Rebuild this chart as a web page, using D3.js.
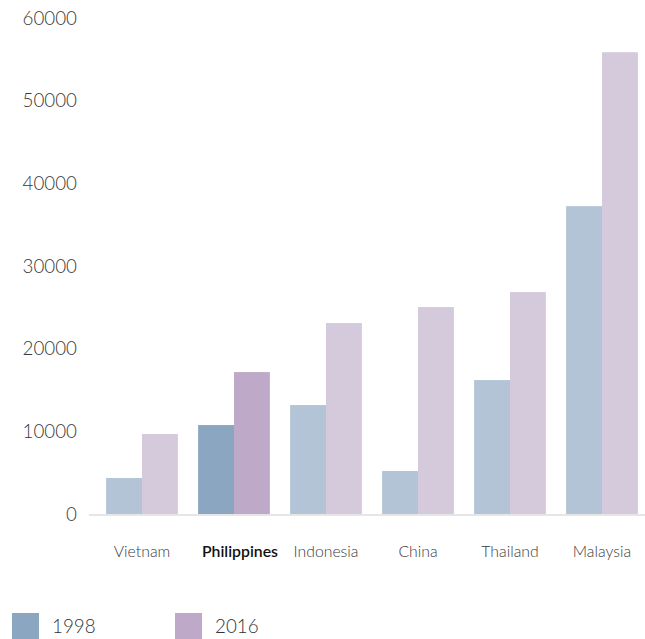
<!DOCTYPE html>
<html><head><meta charset="utf-8">
<script src="https://cdn.jsdelivr.net/npm/d3@7"></script>
<style>
body{margin:0;background:#fff;}
svg{display:block;font-family:Lato, "Open Sans", sans-serif;}
</style></head>
<body><svg id="c" width="645" height="639"></svg>
<script>
const categories = ["Vietnam","Philippines","Indonesia","China","Thailand","Malaysia"];
const series = ["1998","2016"];
const values1998 = [4350, 10760, 13180, 5200, 16200, 37240];
const values2016 = [9670, 17170, 23100, 25030, 26840, 55860];
const yTicks = [0,10000,20000,30000,40000,50000,60000];
const highlight = "Philippines";

const colors = {"1998":{base:"#b3c4d6",hi:"#8aa6c1"},"2016":{base:"#d5c9dc",hi:"#bfa9c8"}};

const svg = d3.select("#c");
const x = d3.scaleBand().domain(categories).range([96,648]).paddingInner(0.22).paddingOuter(0.11);
const x1 = d3.scaleBand().domain(series).range([0, x.bandwidth()]);
const y = d3.scaleLinear().domain([0,60000]).range([514,18]);

// y tick labels
svg.append("g").selectAll("text").data(yTicks).join("text")
  .attr("x",77).attr("y",d=>y(d)).attr("dy","0.35em")
  .attr("text-anchor","end").attr("font-size",18.8).attr("font-weight",300)
  .attr("fill","#3a3a3a").text(d=>d);

// baseline
svg.append("line").attr("x1",89).attr("x2",645).attr("y1",515).attr("y2",515)
  .attr("stroke","#e6e6e6").attr("stroke-width",2);

const data = categories.map((c,i)=>({c, v:{"1998":values1998[i],"2016":values2016[i]}}));
const g = svg.append("g").selectAll("g").data(data).join("g")
  .attr("transform",d=>`translate(${x(d.c)},0)`);
g.selectAll("rect").data(d=>series.map(s=>({c:d.c,s,v:d.v[s]}))).join("rect")
  .attr("x",d=>x1(d.s)).attr("width",x1.bandwidth())
  .attr("y",d=>y(d.v)).attr("height",d=>y(0)-y(d.v))
  .attr("fill",d=>d.c===highlight?colors[d.s].hi:colors[d.s].base);

// category labels
svg.append("g").selectAll("text").data(categories).join("text")
  .attr("x",d=>x(d)+x.bandwidth()/2+(d===highlight?6:0)).attr("y",557)
  .attr("text-anchor","middle").attr("font-size",15.8)
  .attr("font-weight",d=>d===highlight?600:300)
  .attr("fill",d=>d===highlight?"#111":"#3a3a3a").text(d=>d);

// legend
const legX = [12,175];
const lg = svg.append("g").selectAll("g").data(series).join("g")
  .attr("transform",(d,i)=>`translate(${legX[i]},613)`);
lg.append("rect").attr("width",27).attr("height",27).attr("fill",d=>colors[d].hi);
lg.append("text").attr("x",40).attr("y",20).attr("font-size",18.8).attr("font-weight",300)
  .attr("fill","#333").text(d=>d);
</script></body></html>
